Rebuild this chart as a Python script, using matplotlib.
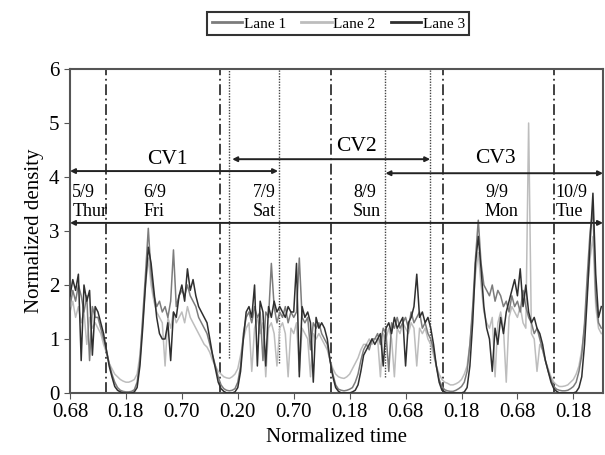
import numpy as np
import matplotlib
matplotlib.use("Agg")
import matplotlib.pyplot as plt

plt.rcParams['font.family'] = ['Liberation Serif', 'DejaVu Serif']

# tick labels along the time axis (normalized time of day)
tick_labels = ["0.68", "0.18", "0.70", "0.20", "0.70", "0.18", "0.68", "0.18", "0.68", "0.18"]

# density readings, one every 0.05 of a tick step
lane1 = [1.6, 1.9, 1.7, 2.0, 1.8, 1.5, 1.8, 0.6, 1.6, 1.4,
         1.4, 1.2, 1.0, 0.8, 0.55, 0.35, 0.2, 0.1, 0.05, 0.03,
         0.02, 0.02, 0.03, 0.06, 0.2, 0.6, 1.4, 2.2, 3.05, 2.2,
         1.8, 1.6, 1.7, 1.5, 1.6, 1.4, 1.7, 2.65, 1.6, 1.8,
         1.9, 1.8, 2.0, 1.8, 1.7, 1.6, 1.4, 1.3, 1.2, 1.1,
         0.9, 0.7, 0.5, 0.3, 0.15, 0.08, 0.05, 0.04, 0.05, 0.08,
         0.2, 0.5, 1.1, 1.4, 1.5, 1.3, 1.6, 1.4, 1.5, 0.6,
         1.5, 1.4, 2.4, 1.6, 1.3, 1.5, 1.4, 1.6, 1.3, 1.5,
         1.4, 1.5, 2.5, 1.4, 1.3, 1.4, 0.8, 1.3, 1.2, 1.3,
         1.1, 1.0, 0.9, 0.6, 0.35, 0.15, 0.07, 0.05, 0.04, 0.05,
         0.07, 0.1, 0.2, 0.35, 0.6, 0.8, 0.9, 0.8, 1.0, 1.0,
         1.1, 0.9, 1.2, 1.1, 0.4, 1.3, 1.2, 1.4, 1.2, 1.3,
         1.4, 1.2, 1.5, 1.3, 1.4, 1.5, 1.2, 1.3, 1.1, 1.0,
         0.8, 0.5, 0.25, 0.12, 0.06, 0.04, 0.03, 0.03, 0.05, 0.08,
         0.12, 0.2, 0.4, 0.9, 1.6, 2.5, 3.2, 2.4, 2.0, 1.9,
         1.8, 2.0, 1.7, 1.9, 1.8, 1.6, 1.7, 1.5, 1.8, 1.6,
         1.7, 1.5, 1.9, 1.6, 1.4, 1.3, 1.1, 1.2, 1.0, 0.8,
         0.6, 0.4, 0.25, 0.12, 0.07, 0.05, 0.04, 0.04, 0.05, 0.08,
         0.12, 0.2, 0.4, 0.7, 1.3, 2.2, 3.0, 3.4, 1.8, 1.3,
         1.2]

lane2 = [1.5, 1.7, 1.4, 1.6, 1.3, 1.5, 0.9, 1.4, 1.2, 1.3,
         1.2, 1.1, 0.9, 0.75, 0.55, 0.45, 0.35, 0.3, 0.25, 0.22,
         0.2, 0.2, 0.22, 0.25, 0.35, 0.7, 1.3, 2.0, 2.5, 2.0,
         1.7, 1.5, 1.4, 1.3, 0.5, 1.4, 1.2, 1.5, 1.3, 1.4,
         1.5, 1.3, 1.6, 1.4, 1.3, 1.2, 1.1, 1.0, 0.9, 0.85,
         0.75, 0.6, 0.5, 0.4, 0.35, 0.3, 0.28, 0.27, 0.3, 0.35,
         0.45, 0.7, 1.0, 1.2, 1.3, 0.4, 1.2, 1.4, 1.1, 1.3,
         0.3, 1.2, 1.3, 1.1, 0.5, 1.2, 1.3, 1.1, 0.3, 1.2,
         1.1, 1.3, 0.4, 1.2, 1.1, 1.0, 0.3, 1.1, 1.0, 1.1,
         1.0, 0.9, 0.8, 0.6, 0.45, 0.35, 0.3, 0.28, 0.27, 0.3,
         0.35, 0.45, 0.55, 0.65, 0.8, 0.9, 0.9, 1.0, 0.9, 1.0,
         1.0, 0.3, 1.1, 1.0, 1.2, 1.0, 0.3, 1.2, 1.1, 1.3,
         1.2, 1.1, 1.3, 1.2, 0.5, 1.2, 1.1, 1.2, 1.0, 0.9,
         0.7, 0.5, 0.35, 0.25, 0.2, 0.18, 0.15, 0.15, 0.17, 0.2,
         0.25, 0.35, 0.5, 0.9, 1.5, 2.2, 2.6, 2.0, 1.5, 1.3,
         1.2, 1.4, 0.3, 1.3, 1.5, 1.2, 0.2, 1.4, 1.6, 1.5,
         1.4, 1.6, 1.3, 1.2, 5.0, 1.1, 1.0, 0.4, 0.9, 0.8,
         0.6, 0.45, 0.3, 0.2, 0.15, 0.12, 0.12, 0.13, 0.15, 0.2,
         0.25, 0.35, 0.5, 0.8, 1.2, 1.9, 2.5, 2.9, 1.6, 1.2,
         1.1]

lane3 = [1.8, 2.1, 1.9, 2.2, 0.6, 2.0, 1.7, 1.9, 0.7, 1.6,
         1.5, 1.3, 1.1, 0.8, 0.5, 0.3, 0.12, 0.05, 0.02, 0.0,
         0.0, 0.0, 0.0, 0.02, 0.1, 0.5, 1.2, 2.0, 2.7, 2.4,
         1.9, 1.4, 1.1, 1.0, 1.0, 1.3, 0.6, 1.5, 1.4, 1.8,
         2.0, 1.7, 2.3, 1.9, 2.1, 1.8, 1.6, 1.5, 1.4, 1.3,
         1.0, 0.7, 0.45, 0.2, 0.08, 0.03, 0.0, 0.0, 0.0, 0.02,
         0.1, 0.4, 1.0, 1.5, 1.6, 1.4, 2.0, 0.5, 1.7, 1.5,
         0.5, 1.6, 1.4, 1.7, 1.5, 1.6, 1.5, 1.4, 1.6, 1.5,
         1.5, 2.4, 0.3, 1.6, 1.4, 1.5, 1.3, 0.2, 1.4, 1.2,
         1.3, 1.2, 1.0, 0.6, 0.3, 0.1, 0.03, 0.0, 0.0, 0.0,
         0.0, 0.02, 0.05, 0.15, 0.4, 0.7, 0.8, 0.9, 1.0, 0.9,
         1.0, 1.1, 0.5, 1.2, 1.3, 1.1, 1.4, 1.2, 1.3, 1.4,
         0.5, 1.3, 1.4, 1.6, 2.2, 1.4, 1.5, 1.3, 1.4, 1.2,
         0.9, 0.5, 0.2, 0.05, 0.02, 0.0, 0.0, 0.0, 0.0, 0.0,
         0.0, 0.02, 0.1, 0.5, 1.3, 2.4, 2.9, 2.3, 1.6, 1.2,
         1.0, 0.4, 1.2, 0.9, 1.4, 1.1, 1.5, 1.7, 1.9, 2.1,
         1.8, 2.3, 1.6, 2.0, 1.5, 1.3, 1.4, 1.2, 1.1, 0.9,
         0.6, 0.4, 0.2, 0.08, 0.03, 0.0, 0.0, 0.0, 0.0, 0.0,
         0.0, 0.02, 0.1, 0.3, 0.9, 1.8, 2.8, 3.7, 2.2, 1.4,
         1.6]

# day boundaries and CV window limits (in tick steps)
day_lines = [0.65, 2.69, 4.67, 6.67, 8.66]
cv_lines = [2.85, 3.74, 5.64, 6.44]
cv_line_bottom = [0.65, 0.55, 0.3, 0.55]

dates = ["5/9\nThur", "6/9\nFri", "7/9\nSat", "8/9\nSun", "9/9\nMon", "10/9\nTue"]
date_x = [0.04, 1.31, 3.27, 5.06, 7.42, 8.68]

cv_names = ["CV1", "CV2", "CV3"]
cv_spans = [(0.0, 3.72), (2.9, 6.44), (5.64, 9.53)]
cv_arrow_y = [4.11, 4.33, 4.07]
cv_text_xy = [(1.74, 4.33), (5.13, 4.56), (7.60, 4.35)]

t = np.linspace(0, 9.5, len(lane3))

fig = plt.figure(figsize=(6.05, 4.55), dpi=100)
ax = fig.add_axes([0.1157, 0.1363, 0.881, 0.712])

for xv in day_lines:
    ax.axvline(xv, color='#333333', lw=1.3, ls=(0, (6, 2, 1, 2)), zorder=1)
for xv, yb in zip(cv_lines, cv_line_bottom):
    ax.plot([xv, xv], [yb, 6], color='#444444', lw=1.0, ls=(0, (1, 1)), zorder=1)

ax.plot(t, lane1, color='#7c7c7c', lw=1.1, label='Lane 1', zorder=3)
ax.plot(t, lane2, color='#bdbdbd', lw=1.1, label='Lane 2', zorder=2)
ax.plot(t, lane3, color='#2f2f2f', lw=1.1, label='Lane 3', zorder=4)

# CV window arrows
for (x0, x1), yv in zip(cv_spans, cv_arrow_y):
    ax.annotate('', xy=(x1, yv), xytext=(x0, yv),
                arrowprops=dict(arrowstyle='<|-|>', color='#222222', lw=1.4,
                                mutation_scale=7, shrinkA=0, shrinkB=0))
for name, (xv, yv) in zip(cv_names, cv_text_xy):
    ax.text(xv, yv, name, fontsize=15.5, ha='center', va='center', zorder=5)

ax.annotate('', xy=(9.53, 3.15), xytext=(0.0, 3.15),
            arrowprops=dict(arrowstyle='<|-|>', color='#222222', lw=1.4,
                            mutation_scale=7, shrinkA=0, shrinkB=0))

for d, xv in zip(dates, date_x):
    ax.text(xv, 3.54, d, fontsize=13, ha='left', va='center', linespacing=1.2, zorder=5)

ax.set_xlim(0, 9.53)
ax.set_ylim(0, 6)
ax.set_xticks(range(len(tick_labels)))
ax.set_xticklabels(tick_labels)
ax.set_yticks(range(7))
ax.tick_params(direction='out', length=4, labelsize=15, color='#555555')
for s in ax.spines.values():
    s.set_color('#555555')
    s.set_linewidth(1.5)

ax.set_xlabel('Normalized time', fontsize=15)
ax.set_ylabel('Normalized density', fontsize=15)

leg = fig.legend(loc='center', bbox_to_anchor=(0.559, 0.948), ncol=3, fontsize=11,
                 frameon=True, fancybox=False, handlelength=2.0, columnspacing=1.0,
                 handletextpad=0.1, borderpad=0.3)
leg.get_frame().set_edgecolor('black')
leg.get_frame().set_linewidth(1.5)
for ln in leg.get_lines():
    ln.set_linewidth(2.0)

fig.savefig('out.png', dpi=100)
